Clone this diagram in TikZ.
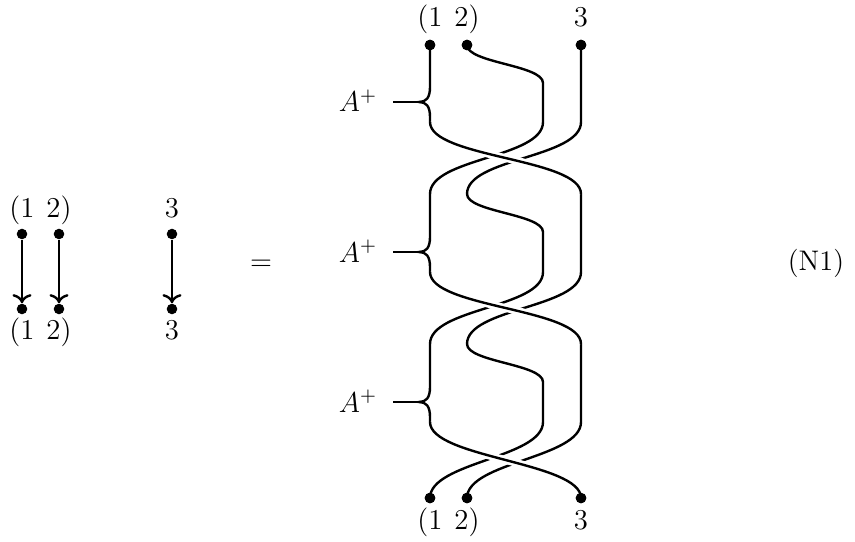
\documentclass[tikz,border=0pt]{standalone}
\usetikzlibrary{arrows.meta}
\begin{document}
\begin{tikzpicture}[x=0.41667pt,y=-0.41667pt,
  font=\fontsize{11.8}{14}\selectfont,
  strand/.style={line width=1pt},
  overstrand/.style={line width=1pt,preaction={draw,white,line width=3.2pt}},
  dot/.style={circle,fill=black,inner sep=0pt,minimum size=4.4pt},
  lab/.style={anchor=base,inner sep=0pt},
  arr/.style={line width=1pt,->},
  bracebar/.style={line width=1pt}]
\useasboundingbox (0,0) rectangle (855,542);

% ---------- left: identity ----------
\node[dot] (l1t) at (22,234) {};
\node[dot] (l2t) at (59,234) {};
\node[dot] (l3t) at (172,234) {};
\node[dot] (l1b) at (22,309) {};
\node[dot] (l2b) at (59,309) {};
\node[dot] (l3b) at (172,309) {};
\draw[arr] (l1t) -- (l1b);
\draw[arr] (l2t) -- (l2b);
\draw[arr] (l3t) -- (l3b);
\node[lab] (ll1t) at (22,218) {$(1$};
\node[lab] (ll2t) at (59,218) {$2)$};
\node[lab] (ll3t) at (172,218) {$3$};
\node[lab] (ll1b) at (22,339) {$(1$};
\node[lab] (ll2b) at (59,339) {$2)$};
\node[lab] (ll3b) at (172,339) {$3$};

\node (eq) at (261,265) {$=$};
\node (tag) at (816,263) {(N1)};

% ---------- right: braid ----------
\node[dot] (t1) at (430,45) {};
\node[dot] (t2) at (467,45) {};
\node[dot] (t3) at (581,45) {};
\node[dot] (b1) at (430,498) {};
\node[dot] (b2) at (467,498) {};
\node[dot] (b3) at (581,498) {};
\node[lab] (lt1) at (430,27) {$(1$};
\node[lab] (lt2) at (467,27) {$2)$};
\node[lab] (lt3) at (581,27) {$3$};
\node[lab] (lb1) at (430,529) {$(1$};
\node[lab] (lb2) at (467,529) {$2)$};
\node[lab] (lb3) at (581,529) {$3$};

% blocks: top Y, brace tip T, crossing start S, crossing end E
\foreach \k/\Y/\T/\S/\E in {0/45/102/122/194, 1/194/252/272/344, 2/344/402/422/498}{
  % left strand with brace
  \draw[strand] (430,\Y) -- (430,\T-15)
     .. controls (430,\T-4) and (426,\T) .. (419,\T)
     .. controls (426,\T) and (430,\T+4) .. (430,\T+15) -- (430,\S);
  \coordinate (tip\k) at (419,\T);
  \coordinate (bar\k) at (393,\T);
  \draw[bracebar] (bar\k) -- (tip\k);
  \node[lab] (A\k) at (358,\T+10) {$A^{+}$};
  % middle strand: S-curve then crossing to the left
  \draw[strand] (467,\Y) .. controls (467,\Y+18) and (543,\Y+20) .. (543,\Y+38)
     -- (543,\S) .. controls (543,\S+36) and (430,\E-36) .. (430,\E);
  % right strand: vertical then crossing to the middle
  \draw[strand] (581,\Y) -- (581,\S) .. controls (581,\S+36) and (467,\E-36) .. (467,\E);
}
% over-crossings
\foreach \S/\E in {122/194, 272/344, 422/498}{
  \draw[overstrand] (430,\S) .. controls (430,\S+36) and (581,\E-36) .. (581,\E);
}
% redraw dots on top
\foreach \n in {t1,t2,t3,b1,b2,b3}{ \fill (\n) circle (2.2pt); }
\end{tikzpicture}
\end{document}
